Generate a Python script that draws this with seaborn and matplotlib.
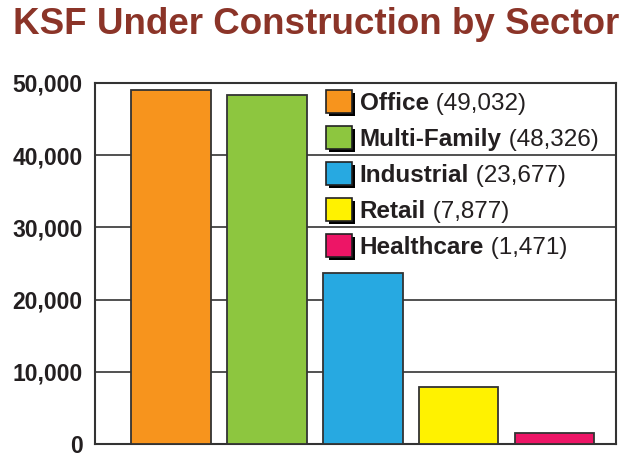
import matplotlib
matplotlib.use("Agg")
import matplotlib.pyplot as plt
import matplotlib.patheffects as pe
import matplotlib.ticker as mticker
import pandas as pd
import seaborn as sns

# Chart data
sectors = ["Office", "Multi-Family", "Industrial", "Retail", "Healthcare"]
ksf = [49032, 48326, 23677, 7877, 1471]
colors = ["#F7941D", "#8DC63F", "#27A9E1", "#FFF200", "#ED1566"]
y_ticks = [0, 10000, 20000, 30000, 40000, 50000]

title_color = "#8B3428"
edge_color = "#333333"
text_color = "#231F20"

sns.set_style("white")
plt.rcParams["font.family"] = ["Liberation Sans", "DejaVu Sans"]

df = pd.DataFrame({"Sector": sectors, "KSF": ksf})

fig = plt.figure(figsize=(6.32, 4.68), dpi=100)
ax = fig.add_axes([0.1503, 0.0513, 0.8244, 0.7714])

sns.barplot(
    data=df, x="Sector", y="KSF", hue="Sector", order=sectors,
    palette=dict(zip(sectors, colors)), saturation=1, width=0.83,
    edgecolor=edge_color, linewidth=1.3, legend=False, ax=ax, zorder=3,
)

ax.set_ylim(0, 50000)
ax.set_xlim(-0.79, 4.64)
ax.set_yticks(y_ticks)
ax.yaxis.set_major_formatter(mticker.FuncFormatter(lambda v, p: f"{int(v):,}"))
ax.set_xticks([])
ax.set_xlabel("")
ax.set_ylabel("")
ax.tick_params(axis="y", length=0, pad=9, labelsize=16.5)
for lbl in ax.get_yticklabels():
    lbl.set_fontweight("bold")
    lbl.set_color(text_color)

ax.yaxis.grid(True, color=edge_color, linewidth=1.2, zorder=0)
ax.set_axisbelow(True)
for side in ["left", "right", "top", "bottom"]:
    ax.spines[side].set_visible(True)
    ax.spines[side].set_color(edge_color)
    ax.spines[side].set_linewidth(1.5)

# Legend with bold names, plain numbers and drop-shadowed swatches
handles = [plt.Rectangle((0, 0), 1, 1, facecolor=c, edgecolor="#222222", linewidth=1.2)
           for c in colors]
leg = ax.legend(
    handles, sectors, loc="upper left", bbox_to_anchor=(0.411, 1.028),
    frameon=False, prop={"weight": "bold", "size": 17.5},
    handlelength=1.08, handleheight=1.08, handletextpad=0.3,
    labelspacing=0.46, borderpad=0.2,
)
for patch in leg.get_patches():
    patch.set_path_effects([
        pe.SimplePatchShadow(offset=(2, -2), shadow_rgbFace="black", alpha=1.0),
        pe.Normal(),
    ])
for text, value in zip(leg.get_texts(), ksf):
    text.set_color(text_color)
    ax.annotate(f" ({value:,})", xy=(1, 0), xycoords=text, va="bottom",
                ha="left", fontsize=17.5, color=text_color, zorder=10)

fig.text(0.5, 0.985, "KSF Under Construction by Sector", ha="center", va="top",
         fontsize=26.5, fontweight="bold", color=title_color)

fig.savefig("out.png", dpi=100)
